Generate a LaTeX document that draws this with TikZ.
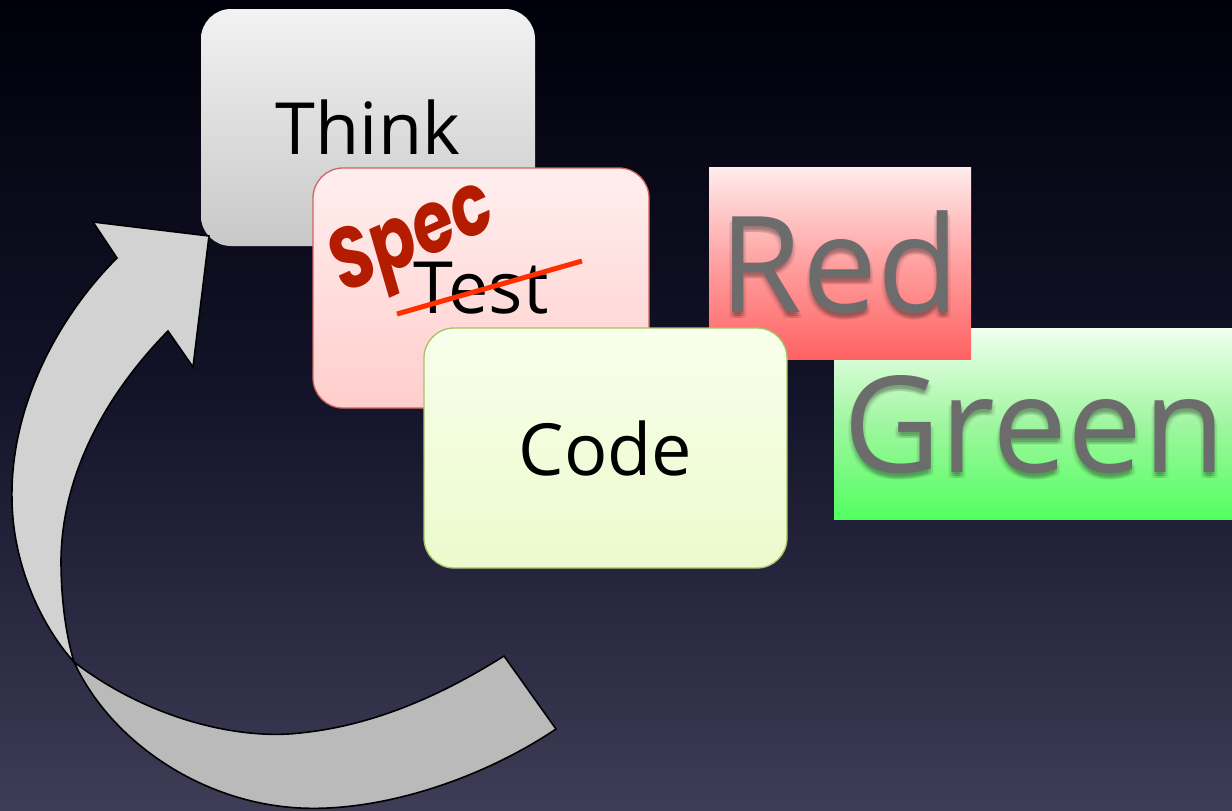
\documentclass[tikz,border=0pt]{standalone}
\usepackage{fontspec}
\setmainfont{Open Sans}
\newfontfamily\specfont{Poppins}

\definecolor{bgtop}{RGB}{0,0,10}
\definecolor{bgmid}{RGB}{20,20,42}
\definecolor{bgbot}{RGB}{62,60,86}
\definecolor{thinktop}{RGB}{242,242,242}
\definecolor{thinkbot}{RGB}{200,200,200}
\definecolor{testtop}{RGB}{255,238,238}
\definecolor{testbot}{RGB}{255,206,204}
\definecolor{testline}{RGB}{210,100,96}
\definecolor{codetop}{RGB}{248,255,236}
\definecolor{codebot}{RGB}{236,250,204}
\definecolor{codeline}{RGB}{164,196,100}
\definecolor{redtop}{RGB}{255,236,236}
\definecolor{redmid}{RGB}{255,160,160}
\definecolor{redbot}{RGB}{255,98,98}
\definecolor{greentop}{RGB}{240,255,238}
\definecolor{greenmid}{RGB}{160,246,160}
\definecolor{greenbot}{RGB}{82,255,96}
\definecolor{wordgray}{RGB}{108,108,108}
\definecolor{specred}{RGB}{180,28,0}
\definecolor{strikered}{RGB}{255,48,0}
\definecolor{bandlight}{RGB}{210,210,210}
\definecolor{banddark}{RGB}{186,186,186}

\tikzset{
  card/.style={rounded corners=30pt, inner sep=0pt, text=black,
    font=\fontsize{72}{78}\selectfont},
  panel/.style={inner sep=0pt, anchor=north west},
  bigword/.style={inner sep=0pt, text=wordgray,
    font=\fontsize{134}{140}\selectfont},
  wordshadow/.style={bigword, text=black, opacity=0.06},
  spectext/.style={inner sep=0pt, text=specred,
    font=\specfont\bfseries\itshape\fontsize{86}{90}\selectfont},
  strike/.style={draw=strikered, line width=5pt},
  band/.style={draw=black, line width=1.6pt, line join=miter},
}

\begin{document}
\begin{tikzpicture}[x=1pt, y=-1pt]
\useasboundingbox (0,0) rectangle (1232,811);

% night-sky backdrop
\shade[top color=bgtop, bottom color=bgbot, middle color=bgmid]
  (0,0) rectangle (1232,811);

% Green panel and its word
\node[panel, minimum width=398pt, minimum height=191pt,
      top color=greentop, bottom color=greenbot, middle color=greenmid]
      (greenpanel) at (834,328) {};
\foreach \dx/\dy [count=\k] in {0/4, 2/4, -2/4, 0/6, 0/2, 3/6, -3/6}
  \node[wordshadow, anchor=base west] (greenshadow\k) at (843+\dx,472+\dy) {Green};
\node[bigword, anchor=base west] (greenword) at (843,472) {Green};

% Red panel and its word
\node[panel, minimum width=262pt, minimum height=192pt,
      top color=redtop, bottom color=redbot, middle color=redmid]
      (redpanel) at (709,167) {};
\foreach \dx/\dy [count=\k] in {0/4, 2/4, -2/4, 0/6, 0/2, 3/6, -3/6}
  \node[wordshadow, anchor=base] (redshadow\k) at (840+\dx,312+\dy) {Red};
\node[bigword, anchor=base] (redword) at (840,312) {Red};

% the three cards
\node[card, minimum width=334pt, minimum height=237pt,
      top color=thinktop, bottom color=thinkbot]
      (think) at (368,127.5) {Think};
\node[card, minimum width=336pt, minimum height=240pt,
      top color=testtop, bottom color=testbot, draw=testline, line width=1.3pt]
      (test) at (481,288) {Test};
\node[card, minimum width=363pt, minimum height=240pt,
      top color=codetop, bottom color=codebot, draw=codeline, line width=1.3pt]
      (code) at (605.5,448) {Code};

% "Test" struck out and replaced by "Spec"
\coordinate (strikefrom) at (397,314);
\coordinate (striketo) at (582,261);
\draw[strike] (strikefrom) -- (striketo);
\node[spectext, rotate=24] (spec) at (414,242) {\scalebox{0.78}[1]{Spec}};

% twisted return arrow: lower ribbon
\coordinate (pinch) at (74,662);
\coordinate (tailtop) at (504,656);
\coordinate (tailbot) at (556,729);
\filldraw[band, fill=banddark]
  (pinch) .. controls (150,720) and (240,740) .. (300,733)
          .. controls (380,725) and (450,690) .. (tailtop)
  -- (tailbot)
          .. controls (480,780) and (380,812) .. (300,808)
          .. controls (200,803) and (110,740) .. (pinch)
  -- cycle;

% upper ribbon with arrowhead
\coordinate (notchL) at (117,258);
\coordinate (barbL) at (93,222);
\coordinate (tip) at (209,236);
\coordinate (barbR) at (193,367);
\coordinate (notchR) at (168,331);
\filldraw[band, fill=bandlight]
  (pinch) .. controls (45,630) and (13,570) .. (12,500)
          .. controls (10,410) and (55,320) .. (notchL)
  -- (barbL) -- (tip) -- (barbR) -- (notchR)
          .. controls (110,390) and (62,470) .. (61,560)
          .. controls (61,600) and (66,635) .. (pinch)
  -- cycle;
\end{tikzpicture}
\end{document}
